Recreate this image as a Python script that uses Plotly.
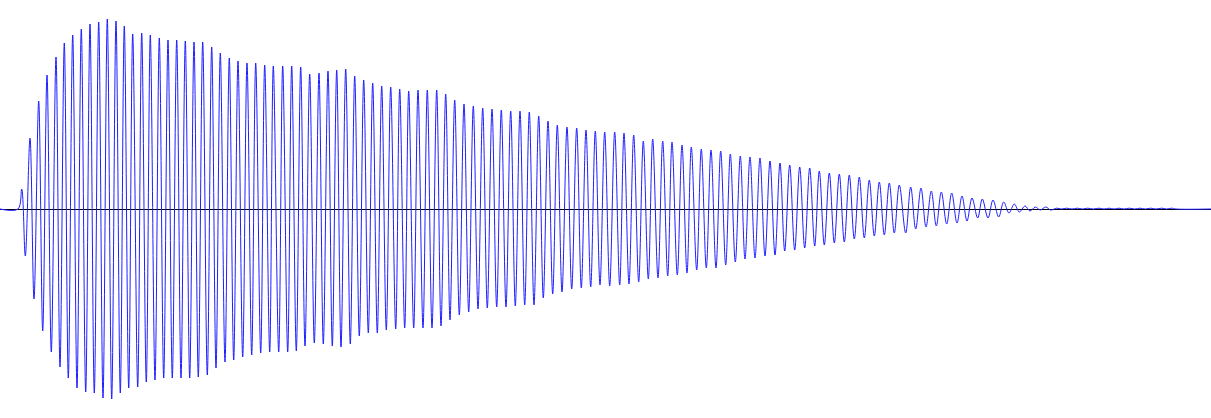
import plotly.graph_objects as go

# Waveform extremes (time in sample units, amplitude in signal units)
top_t = [21.7, 30, 38.7, 47, 56, 64.3, 72.7, 81.3, 90, 98.7, 107.3, 116, 124.3, 132.7, 141.7, 150.3,
         159.3, 168, 176.7, 185.3, 194, 202.7, 211.7, 220.3, 229.3, 238, 247, 255.7, 264.7, 273.3, 282.7, 291.7,
         300.7, 309.7, 319, 328, 336.7, 345.7, 354.7, 363.7, 372.7, 381.7, 390.7, 399.7, 408.7, 418, 427.3, 436.7,
         445.7, 454.7, 464, 473.3, 482.7, 492, 501.3, 510.7, 520, 529.3, 538.7, 548, 557.3, 567, 576.7, 586, 595.3,
         604.7, 614.7, 624, 633.7, 643.3, 652.7, 662.7, 672, 682, 691.3, 701.3, 711, 720.7, 730.3, 740.3, 750,
         760, 770, 780, 789.7, 799.7, 809.7, 819.3, 829.3, 839.3, 849.3, 859.3, 869.3, 879.3, 889.3, 899.3,
         910.7, 921, 931.3, 941.3, 951.7, 962, 972, 982.3, 993, 1003.7, 1014.3, 1025, 1035.3, 1045.7,
         1056.7, 1066.7, 1077.3, 1087.7, 1099, 1109, 1119, 1129.3, 1140, 1150.7, 1161.7, 1171.7]
top_v = [20, 71, 108, 134, 152, 166, 174, 180, 185, 187, 190, 188, 183, 175, 176, 174,
         171, 169, 169, 168, 167, 167, 162, 156, 151, 148, 146, 146, 144, 143, 143, 143,
         142, 135, 136, 138, 139, 140, 133, 129, 126, 123, 122, 120, 118, 119, 119, 119,
         115, 109, 105, 103, 101, 100, 99, 98, 98, 97, 93, 88, 84, 82, 81, 79, 78,
         77, 77, 76, 74, 68, 70, 68, 67, 64, 62, 60, 59, 58, 55, 53, 52,
         51, 48, 46, 44, 42, 41, 38, 36, 35, 34, 32, 29, 27, 26, 24,
         22, 21, 18, 17, 16, 13, 11, 10, 9, 7, 5, 3, 2, 2,
         0.8, 0.8, 0.8, 0.8, 0.8, 0.8, 0.8, 0.8, 0.8, 0.8, 0.8, 0.8]

trough_t = [25.3, 34, 42.7, 51.3, 60, 68.3, 77, 85.7, 94.3, 103, 111.7, 120.3, 128.7, 137.7, 146.3, 155,
            163.7, 172.3, 181, 189.7, 198.3, 207.3, 216, 225, 233.7, 242.7, 251.7, 260.7, 269.7, 278.7, 287.7, 296.3,
            305, 314.3, 323.3, 332.3, 341, 350.3, 359.3, 368.3, 377.3, 386.3, 395.7, 404.7, 413.7, 423, 432, 441,
            450, 459.3, 468.7, 478, 487.3, 496.7, 506, 515.3, 524.7, 534, 543.3, 552.7, 562, 571.7, 581.3, 590.7, 600,
            609.7, 619.7, 629, 638.7, 648.3, 658, 667.7, 677.3, 687, 696.7, 706.3, 716, 725.7, 735.3, 745, 755,
            765, 775, 784.7, 794.7, 804.7, 814.7, 824.3, 834.3, 844.3, 854.3, 864.3, 874.3, 884.3, 894.3, 905.7,
            915.7, 926, 936.3, 946.7, 957, 967, 977.7, 988, 998.7, 1009, 1019.3, 1030, 1040.3, 1050.7,
            1061.5, 1072, 1082.5, 1093.3, 1104, 1114, 1124, 1134.7, 1145.3, 1156, 1166.7, 1176]
trough_v = [-47, -90, -122, -143, -158, -169, -179, -183, -184, -189, -190, -184, -179, -178, -173, -171,
            -169, -169, -169, -169, -168, -166, -159, -153, -151, -148, -146, -144, -143, -143, -143, -142,
            -137, -134, -135, -137, -138, -135, -127, -124, -124, -121, -120, -119, -119, -119, -119, -117,
            -111, -106, -103, -100, -99, -98, -98, -97, -96, -96, -89, -85, -83, -80, -79, -78, -76,
            -77, -76, -75, -73, -70, -69, -67, -66, -64, -61, -59, -59, -56, -53, -50, -49,
            -47, -46, -42, -41, -39, -37, -36, -34, -33, -30, -29, -27, -26, -24, -24,
            -20, -18, -17, -15, -14, -12, -9, -9, -8, -4, -3, -2, -1, -1,
            0, 0, 0, 0, 0, 0, 0, 0, 0, 0, 0, 0]

start_t = [0, 18]
start_v = [0, 0]
end_t = [1211]
end_v = [0]

# Interleave extremes
t = list(start_t)
v = list(start_v)
for a, b, c, d in zip(top_t, top_v, trough_t, trough_v):
    t += [a, c]
    v += [b, d]
t += end_t
v += end_v

fig = go.Figure()
fig.add_trace(go.Scatter(
    x=t, y=v, mode="lines",
    line=dict(color="#1f1fff", width=1, shape="spline", smoothing=1.0),
    hoverinfo="skip", showlegend=False,
))

fig.update_layout(
    width=1211, height=418,
    margin=dict(l=0, r=0, t=0, b=0),
    paper_bgcolor="white", plot_bgcolor="white",
    xaxis=dict(range=[0, 1211], visible=False, showgrid=False, zeroline=False, fixedrange=True),
    yaxis=dict(range=[-209, 209], showgrid=False, showticklabels=False, ticks="",
               zeroline=True, zerolinecolor="black", zerolinewidth=1, fixedrange=True),
    showlegend=False,
)

fig.write_html("out.html", config={"displayModeBar": False})
